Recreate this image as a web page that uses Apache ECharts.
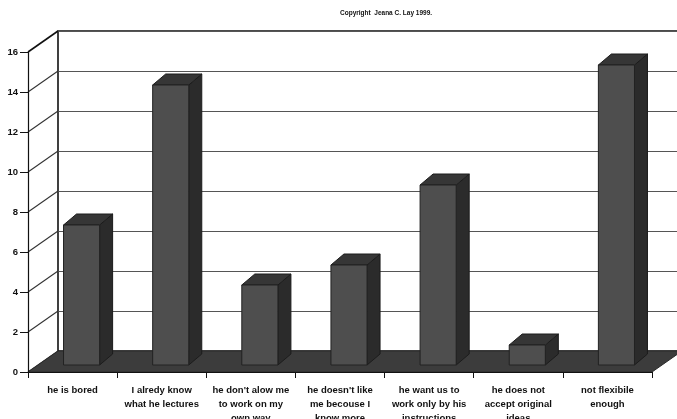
<!DOCTYPE html>
<html>
<head>
<meta charset="utf-8">
<script src="https://cdn.jsdelivr.net/npm/echarts@6/dist/echarts.min.js"></script>
<style>
  html, body { margin: 0; padding: 0; background: #fff; }
  #chart { width: 677px; height: 419px; }
</style>
</head>
<body>
<div id="chart"></div>
<script>
// Reasons given, number of answers per category
const categories = [
  'he is bored',
  'I alredy know\nwhat he lectures',
  "he don't alow me\nto work on my\nown way",
  "he doesn't like\nme becouse I\nknow more",
  'he want us to\nwork only by his\ninstructions',
  'he does not\naccept original\nideas',
  'not flexibile\nenough'
];
const counts = [7, 14, 4, 5, 9, 1, 15];
const yTickValues = [0, 2, 4, 6, 8, 10, 12, 14, 16];
const titleText = 'Copyright  Jeana C. Lay 1999.';

// 3D look: depth of the plot box and of each bar, in pixels
const WALL_DX = 30, WALL_DY = -21;
const BAR_SHIFT_X = 9, BAR_SHIFT_Y = -7;
const BAR_DX = 13, BAR_DY = -11;
const BAR_RATIO = 0.405;

const FONT = '"Liberation Sans", Arial, sans-serif';

function renderWalls(params, api) {
  const v = api.value(1);
  const p = api.coord([0, v]);
  const x = params.coordSys.x;
  const isTop = v === 16;
  return {
    type: 'line',
    shape: { x1: x, y1: p[1], x2: x + WALL_DX, y2: p[1] + WALL_DY },
    style: { stroke: isTop ? '#111' : '#333', lineWidth: isTop ? 1.6 : 1.1 }
  };
}

function renderFloor(params, api) {
  const cs = params.coordSys;
  const y0 = api.coord([0, 0])[1];
  const xl = cs.x, xr = cs.x + cs.width;
  return {
    type: 'polygon',
    shape: { points: [[xl, y0], [xr, y0], [xr + WALL_DX, y0 + WALL_DY], [xl + WALL_DX, y0 + WALL_DY]] },
    style: { fill: '#3c3c3c', stroke: '#2a2a2a', lineWidth: 1 }
  };
}

function renderBar(params, api) {
  const cat = api.value(0), v = api.value(1);
  const base = api.coord([cat, 0]);
  const top = api.coord([cat, v]);
  const w = api.size([1, 0])[0] * BAR_RATIO;
  const x0 = base[0] + BAR_SHIFT_X - w / 2, x1 = x0 + w;
  const yb = base[1] + BAR_SHIFT_Y, yt = top[1] + BAR_SHIFT_Y;
  return {
    type: 'group',
    children: [
      { type: 'polygon',
        shape: { points: [[x1, yb], [x1 + BAR_DX, yb + BAR_DY], [x1 + BAR_DX, yt + BAR_DY], [x1, yt]] },
        style: { fill: '#2b2b2b', stroke: '#1c1c1c', lineWidth: 1 } },
      { type: 'polygon',
        shape: { points: [[x0, yt], [x1, yt], [x1 + BAR_DX, yt + BAR_DY], [x0 + BAR_DX, yt + BAR_DY]] },
        style: { fill: '#363636', stroke: '#1c1c1c', lineWidth: 1 } },
      { type: 'rect',
        shape: { x: x0, y: yt, width: w, height: yb - yt },
        style: { fill: '#4e4e4e', stroke: '#222', lineWidth: 1 } }
    ]
  };
}

const chart = echarts.init(document.getElementById('chart'), null, { renderer: 'canvas' });
chart.setOption({
  animation: false,
  backgroundColor: '#fff',
  title: {
    text: titleText,
    left: 340, top: 10, padding: 0,
    textStyle: { fontFamily: FONT, fontSize: 6.5, fontWeight: 'bold', color: '#111' }
  },
  grid: [
    // front plane: axes and labels
    { left: 28, top: 52, width: 624, height: 320, outerBoundsMode: 'none', containLabel: false },
    // back wall
    { left: 28 + WALL_DX, top: 52 + WALL_DY, width: 624, height: 320,
      outerBoundsMode: 'none', containLabel: false,
      show: true, backgroundColor: '#fff', borderColor: '#111', borderWidth: 1.6 }
  ],
  xAxis: [
    { gridIndex: 0, type: 'category', data: categories, z: 10,
      axisLine: { lineStyle: { color: '#111', width: 1.2 } },
      axisTick: { show: true, length: 6, lineStyle: { color: '#111' } },
      axisLabel: { interval: 0, margin: 11, fontFamily: FONT, fontSize: 9.5, fontWeight: 'bold',
        color: '#111', lineHeight: 14 } },
    { gridIndex: 1, type: 'category', data: categories, show: false }
  ],
  yAxis: [
    { gridIndex: 0, type: 'value', min: 0, max: 16, interval: 2, z: 10,
      axisLine: { show: true, lineStyle: { color: '#111', width: 1.2 } },
      axisTick: { show: true, length: 8, lineStyle: { color: '#111' } },
      splitLine: { show: false },
      axisLabel: { margin: 10, fontFamily: FONT, fontSize: 9.5, fontWeight: 'bold', color: '#111' } },
    { gridIndex: 1, type: 'value', min: 0, max: 16, interval: 2,
      axisLine: { show: false }, axisTick: { show: false }, axisLabel: { show: false },
      splitLine: { show: true, lineStyle: { color: '#555', width: 1 } } }
  ],
  series: [
    { type: 'custom', xAxisIndex: 0, yAxisIndex: 0, z: 3,
      data: yTickValues.map(v => [0, v]), renderItem: renderWalls, silent: true },
    { type: 'custom', xAxisIndex: 0, yAxisIndex: 0, z: 4,
      data: [[0, 0]], renderItem: renderFloor, silent: true },
    { type: 'custom', xAxisIndex: 0, yAxisIndex: 0, z: 5,
      data: counts.map((v, i) => [i, v]), encode: { x: 0, y: 1 }, renderItem: renderBar }
  ]
});
</script>
</body>
</html>
